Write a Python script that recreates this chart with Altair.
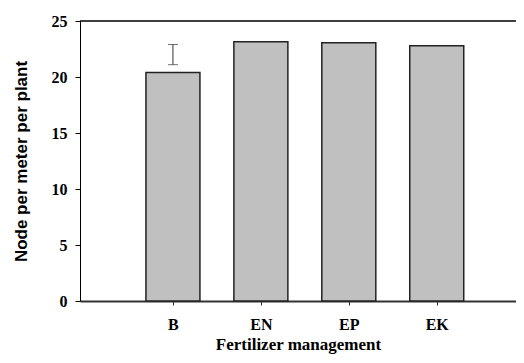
import altair as alt
import pandas as pd

categories = ["B", "EN", "EP", "EK"]
values = [20.4, 23.15, 23.05, 22.8]
err_low = [21.1]
err_high = [22.9]

df = pd.DataFrame({
    "pos": list(range(1, len(categories) + 1)),
    "cat": categories,
    "val": values,
})
err = pd.DataFrame({"pos": [1], "lo": err_low, "hi": err_high})

label_expr = "{" + ",".join(f"'{i+1}':'{c}'" for i, c in enumerate(categories)) + "}[datum.value] || ''"

SERIF = "Liberation Serif"
SANS = "Liberation Sans"

W = 436
xscale = alt.Scale(domain=[0, W / 90], nice=False, zero=False)
yscale = alt.Scale(domain=[0, 25], nice=False)

x_axis = alt.Axis(
    values=[1, 2, 3, 4], labelExpr=label_expr, title="Fertilizer management",
    grid=False, domainColor="#333333", domainWidth=2, tickColor="#333333",
    tickSize=4, labelPadding=11, titlePadding=4,
)
y_axis = alt.Axis(
    values=[0, 5, 10, 15, 20, 25], title="Node per meter per plant", grid=False,
    domainColor="black", domainWidth=1, tickColor="black", tickSize=5,
    labelPadding=8, titlePadding=21,
)

bars = alt.Chart(df).mark_bar(size=54, fill="#c0c0c0", stroke="#222222", strokeWidth=1.5).encode(
    x=alt.X("pos:Q", scale=xscale, axis=x_axis),
    y=alt.Y("val:Q", scale=yscale, axis=y_axis),
)

top = alt.Chart(pd.DataFrame({"v": [25]})).mark_rule(color="black", strokeWidth=1.5).encode(
    y=alt.Y("v:Q", scale=yscale)
)

rule = alt.Chart(err).mark_rule(color="#333333", strokeWidth=1).encode(
    x=alt.X("pos:Q", scale=xscale), y=alt.Y("lo:Q", scale=yscale), y2="hi:Q"
)
cap_lo = alt.Chart(err).mark_tick(orient="horizontal", size=10, thickness=1, color="#333333").encode(
    x=alt.X("pos:Q", scale=xscale), y=alt.Y("lo:Q", scale=yscale)
)
cap_hi = alt.Chart(err).mark_tick(orient="horizontal", size=10, thickness=1, color="#333333").encode(
    x=alt.X("pos:Q", scale=xscale), y=alt.Y("hi:Q", scale=yscale)
)

chart = alt.layer(bars, top, rule, cap_lo, cap_hi).properties(
    width=W, height=280,
    autosize=alt.AutoSizeParams(type="none"),
    padding={"left": 72, "top": 13, "right": 0, "bottom": 54},
).configure(
    background="white",
    view=alt.ViewConfig(stroke=None),
    axis=alt.AxisConfig(
        labelFont=SERIF, labelFontWeight="bold", labelFontSize=16, labelColor="black",
        titleFont=SERIF, titleFontWeight="bold", titleFontSize=17, titleColor="black",
    ),
    axisY=alt.AxisConfig(titleFont=SANS),
)

chart.save("out.html", embed_options={"renderer": "svg", "actions": False})
